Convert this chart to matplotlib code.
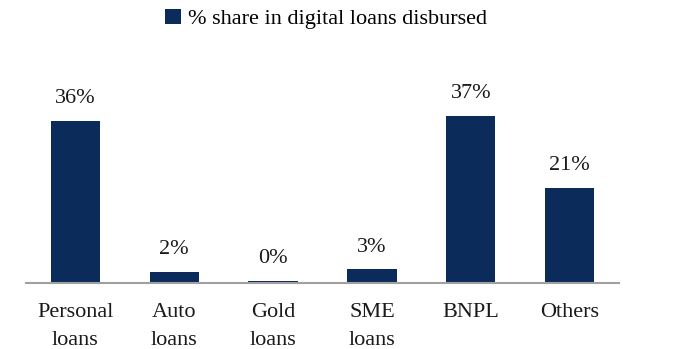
import matplotlib
matplotlib.use('Agg')
import matplotlib.pyplot as plt
from matplotlib.patches import Patch

categories = ['Personal\nloans', 'Auto\nloans', 'Gold\nloans', 'SME\nloans', 'BNPL', 'Others']
shares = [36, 2.4, 0.4, 3, 37, 21]
series_name = '% share in digital loans disbursed'

bar_color = '#0b2b5b'
plt.rcParams['font.family'] = ['Liberation Serif', 'DejaVu Serif']

fig = plt.figure(figsize=(6.74, 3.49), dpi=100)
ax = fig.add_axes([26 / 674, 66.5 / 349, 593 / 674, 180 / 349])

x = range(len(categories))
bars = ax.bar(x, shares, width=0.5, color=bar_color)
for rect, v in zip(bars, shares):
    ax.annotate('{:.0f}%'.format(v),
                (rect.get_x() + rect.get_width() / 2, rect.get_height()),
                xytext=(0, 9), textcoords='offset points',
                ha='center', va='bottom', fontsize=16, color='#1a1a1a')

ax.set_xlim(-0.5, 5.5)
ax.set_ylim(0, 40)
ax.set_xticks(list(x))
ax.set_xticklabels(categories, fontsize=16, color='#1a1a1a', linespacing=1.6)
ax.tick_params(axis='x', length=0, pad=15)
ax.set_yticks([])
for side in ['left', 'right', 'top']:
    ax.spines[side].set_visible(False)
ax.spines['bottom'].set_color('#a0a0a0')
ax.spines['bottom'].set_linewidth(1.5)

handle = Patch(facecolor=bar_color, edgecolor='none')
fig.legend([handle], [series_name], loc='center', bbox_to_anchor=(326 / 674, 1 - 19 / 349),
           frameon=False, fontsize=16, handlelength=0.7, handleheight=0.7,
           handletextpad=0.3)

fig.savefig('out.png', dpi=100)
